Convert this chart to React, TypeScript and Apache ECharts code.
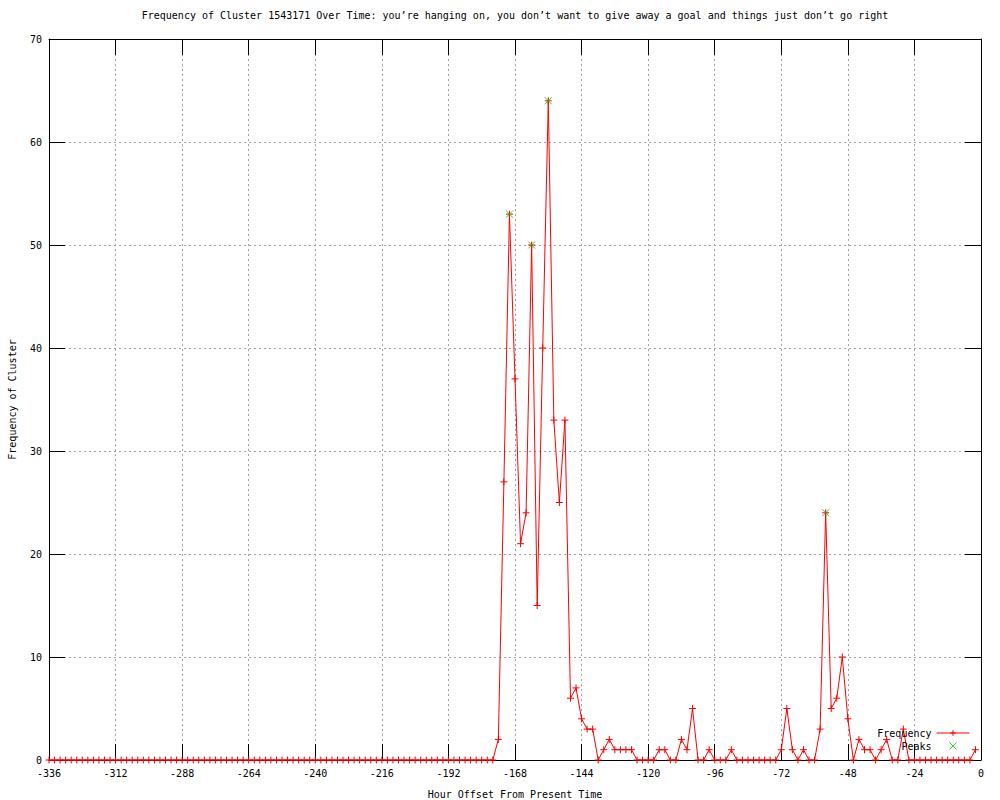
import React, { useEffect, useRef } from "react";
import * as echarts from "echarts";

const TITLE =
  "Frequency of Cluster 1543171 Over Time: you\u2019re hanging on, you don\u2019t want to give away a goal and things just don\u2019t go right";
const X_NAME = "Hour Offset From Present Time";
const Y_NAME = "Frequency of Cluster";
const SERIES_NAMES = ["Frequency", "Peaks"];

// hourly offsets: one sample every 2 hours, starting at -336
const START_HOUR = -336;
const STEP_HOURS = 2;

// frequency per 2-hour bin, rows of 24 hours (12 bins) from -336 to -2
const frequency = [
  0, 0, 0, 0, 0, 0, 0, 0, 0, 0, 0, 0, // -336 .. -314
  0, 0, 0, 0, 0, 0, 0, 0, 0, 0, 0, 0, // -312 .. -290
  0, 0, 0, 0, 0, 0, 0, 0, 0, 0, 0, 0, // -288 .. -266
  0, 0, 0, 0, 0, 0, 0, 0, 0, 0, 0, 0, // -264 .. -242
  0, 0, 0, 0, 0, 0, 0, 0, 0, 0, 0, 0, // -240 .. -218
  0, 0, 0, 0, 0, 0, 0, 0, 0, 0, 0, 0, // -216 .. -194
  0, 0, 0, 0, 0, 0, 0, 0, 0, 2, 27, 53, // -192 .. -170
  37, 21, 24, 50, 15, 40, 64, 33, 25, 33, 6, 7, // -168 .. -146
  4, 3, 3, 0, 1, 2, 1, 1, 1, 1, 0, 0, // -144 .. -122
  0, 0, 1, 1, 0, 0, 2, 1, 5, 0, 0, 1, // -120 .. -98
  0, 0, 0, 1, 0, 0, 0, 0, 0, 0, 0, 0, // -96 .. -74
  1, 5, 1, 0, 1, 0, 0, 3, 24, 5, 6, 10, // -72 .. -50
  4, 0, 2, 1, 1, 0, 1, 2, 0, 0, 3, 0, // -48 .. -26
  0, 0, 0, 0, 0, 0, 0, 0, 0, 0, 0, 1, // -24 .. -2
];

const peakHours = [-170, -162, -156, -56];
const peakValues = [53, 50, 64, 24];

const X_MIN = -336;
const X_MAX = 0;
const X_INTERVAL = 24;
const Y_MIN = 0;
const Y_MAX = 70;
const Y_INTERVAL = 10;

const FONT = "'DejaVu Sans Mono', monospace";
const FS = 10;

const PLUS = "path://M0,5L10,5M5,0L5,10";
const CROSS = "path://M0,0L10,10M10,0L0,10";

export default function App() {
  const ref = useRef<HTMLDivElement>(null);

  useEffect(() => {
    if (!ref.current) return;
    const chart = echarts.init(ref.current, undefined, { renderer: "svg" });

    const freqData = frequency.map((v, i) => [START_HOUR + i * STEP_HOURS, v]);
    const peakData = peakHours.map((h, i) => [h, peakValues[i]]);

    const textStyle = { fontFamily: FONT, fontSize: FS, color: "#000" };
    const frameLine = { show: true, onZero: false, lineStyle: { color: "#000", width: 1 } };
    const innerTick = { show: true, inside: true, length: 16, lineStyle: { color: "#000", width: 1 } };
    const grid = { show: true, lineStyle: { color: "#a0a0a0", width: 1, type: [2, 3] } };

    chart.setOption({
      animation: false,
      backgroundColor: "#ffffff",
      textStyle: { fontFamily: FONT, fontSize: FS, color: "#000" },
      title: {
        text: TITLE,
        left: 515,
        top: 10,
        padding: 0,
        textAlign: "center",
        textStyle: { ...textStyle, fontWeight: "normal" },
      },
      grid: {
        left: 49,
        right: 19,
        top: 39,
        bottom: 40,
        containLabel: false,
        outerBoundsMode: "none",
      },
      legend: {
        data: SERIES_NAMES,
        orient: "vertical",
        right: 30,
        top: 727,
        padding: 0,
        align: "right",
        itemWidth: 33,
        itemHeight: 7,
        itemGap: 1,
        lineStyle: { width: 1 },
        itemStyle: { borderWidth: 1 },
        textStyle: { ...textStyle, lineHeight: 12 },
      },
      xAxis: [
        {
          type: "value",
          position: "bottom",
          min: X_MIN,
          max: X_MAX,
          interval: X_INTERVAL,
          name: X_NAME,
          nameLocation: "middle",
          nameGap: 29,
          nameTextStyle: textStyle,
          axisLine: frameLine,
          axisTick: innerTick,
          axisLabel: { ...textStyle, margin: 8 },
          splitLine: grid,
        },
        {
          type: "value",
          position: "top",
          min: X_MIN,
          max: X_MAX,
          interval: X_INTERVAL,
          axisLine: frameLine,
          axisTick: innerTick,
          axisLabel: { show: false },
          splitLine: { show: false },
        },
      ],
      yAxis: [
        {
          type: "value",
          position: "left",
          min: Y_MIN,
          max: Y_MAX,
          interval: Y_INTERVAL,
          name: Y_NAME,
          nameLocation: "middle",
          nameRotate: 90,
          nameGap: 32,
          nameTextStyle: textStyle,
          axisLine: frameLine,
          axisTick: innerTick,
          axisLabel: { ...textStyle, margin: 7 },
          splitLine: grid,
        },
        {
          type: "value",
          position: "right",
          min: Y_MIN,
          max: Y_MAX,
          interval: Y_INTERVAL,
          axisLine: frameLine,
          axisTick: innerTick,
          axisLabel: { show: false },
          splitLine: { show: false },
        },
      ],
      series: [
        {
          name: SERIES_NAMES[0],
          type: "line",
          xAxisIndex: 0,
          yAxisIndex: 0,
          data: freqData,
          symbol: PLUS,
          symbolSize: 7,
          showAllSymbol: true,
          clip: false,
          z: 3,
          lineStyle: { color: "#ff0000", width: 1 },
          itemStyle: { color: "#ff0000", borderColor: "#ff0000", borderWidth: 1 },
          emphasis: { disabled: true },
        },
        {
          name: SERIES_NAMES[1],
          type: "scatter",
          xAxisIndex: 0,
          yAxisIndex: 0,
          data: peakData,
          symbol: CROSS,
          symbolSize: 7,
          z: 4,
          itemStyle: { color: "#00c000", borderColor: "#00c000", borderWidth: 1 },
          emphasis: { disabled: true },
        },
      ],
    });

    return () => chart.dispose();
  }, []);

  return (
    <div
      ref={ref}
      style={{ position: "absolute", left: 0, top: 0, width: 1000, height: 800 }}
    />
  );
}
